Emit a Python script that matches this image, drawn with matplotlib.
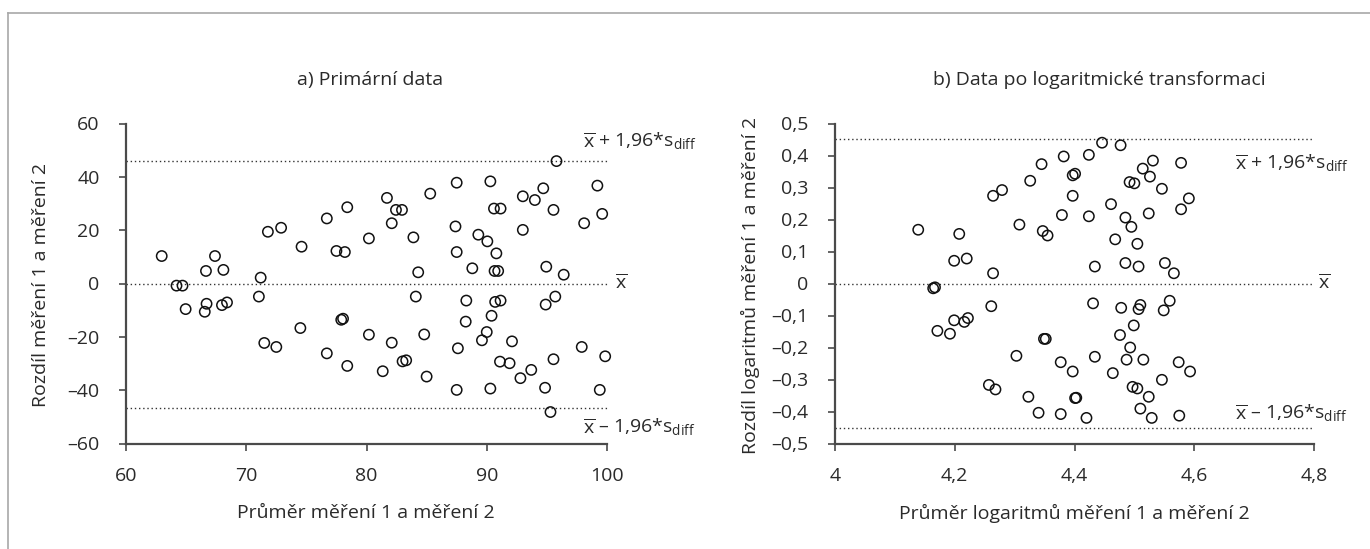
import matplotlib
matplotlib.use("Agg")
import matplotlib.pyplot as plt
from matplotlib.lines import Line2D

plt.rcParams["font.family"] = ["Open Sans", "DejaVu Sans"]
plt.rcParams["mathtext.fontset"] = "custom"
plt.rcParams["mathtext.rm"] = "Open Sans"
plt.rcParams["mathtext.it"] = "Open Sans:italic"
plt.rcParams["mathtext.bf"] = "Open Sans:bold"

# --- panel a: raw measurements -------------------------------------------
avg_raw = [62.97, 64.2, 64.7, 66.65, 67.4, 68.1, 71.2, 71.8, 72.9, 74.6, 76.7, 78.4,
           77.5, 78.2, 80.2,
           95.8, 81.7, 85.3, 87.5, 90.3, 93.0, 94.0, 94.7, 99.2, 82.45, 82.95, 90.6,
           91.15, 95.55, 99.6, 82.1, 87.4, 98.1, 83.9, 89.3, 90.05, 93.0, 87.5, 90.8,
           84.3, 88.8, 90.65, 90.95, 94.95, 96.4,
           64.96, 66.7, 66.55, 67.98, 68.4, 71.05, 71.5, 72.5, 74.5, 76.7, 77.9, 78.05,
           78.4, 80.2,
           84.1, 88.3, 90.7, 91.15, 94.9, 95.7, 90.4, 88.25, 82.1, 84.8, 90.0, 89.6,
           92.1, 87.6, 97.9, 83.0, 83.3, 81.35, 85.0, 91.1, 91.9, 93.7, 92.8, 95.55,
           99.85, 87.5, 90.3, 94.85, 99.4, 95.3]
diff_raw = [10.3, -0.8, -0.8, 4.7, 10.3, 5.1, 2.2, 19.4, 20.9, 13.8, 24.4, 28.6,
            12.2, 11.8, 16.9,
            45.9, 32.1, 33.7, 37.8, 38.3, 32.7, 31.3, 35.7, 36.7, 27.6, 27.6, 28.1,
            28.1, 27.6, 26.1, 22.6, 21.4, 22.6, 17.3, 18.3, 15.8, 20.1, 11.8, 11.3,
            4.2, 5.7, 4.7, 4.7, 6.3, 3.3,
            -9.6, -7.6, -10.6, -8.1, -7.1, -4.9, -22.3, -23.8, -16.7, -26.2, -13.6, -13.2,
            -30.9, -19.2,
            -4.9, -6.4, -6.9, -6.4, -7.9, -4.9, -12.1, -14.3, -22.2, -19.1, -18.2, -21.3,
            -21.7, -24.3, -23.8, -29.2, -28.8, -32.9, -34.9, -29.3, -29.9, -32.4, -35.5, -28.4,
            -27.3, -39.9, -39.4, -39.1, -39.9, -48.2]
raw_mean = 0.0
raw_upper = 46.0
raw_lower = -46.8

raw_xticks = [60, 70, 80, 90, 100]
raw_xticklabels = ["60", "70", "80", "90", "100"]
raw_yticks = [-60, -40, -20, 0, 20, 40, 60]
raw_yticklabels = ["–60", "–40", "–20", "0", "20", "40", "60"]

# --- panel b: log-transformed measurements -------------------------------
avg_log = [4.139, 4.2075, 4.199, 4.22, 4.164, 4.167, 4.171, 4.192, 4.199, 4.216, 4.222,
           4.446, 4.477, 4.382, 4.424, 4.345, 4.531, 4.578, 4.514, 4.397, 4.401, 4.526,
           4.326, 4.492, 4.500, 4.546, 4.279, 4.264, 4.397, 4.591, 4.578, 4.461, 4.379,
           4.424, 4.485, 4.524, 4.308, 4.495, 4.347, 4.355, 4.468, 4.505, 4.264, 4.434,
           4.485, 4.507, 4.551, 4.566,
           4.261, 4.431, 4.478, 4.507, 4.510, 4.549, 4.559, 4.499, 4.476, 4.349, 4.352,
           4.493, 4.303, 4.434, 4.487, 4.515, 4.377, 4.574, 4.397, 4.464, 4.593, 4.546,
           4.257, 4.268, 4.497, 4.505, 4.323, 4.401, 4.403, 4.524, 4.340, 4.377, 4.420,
           4.510, 4.529, 4.575]
diff_log = [0.168, 0.155, 0.071, 0.078, -0.015, -0.012, -0.148, -0.157, -0.115, -0.12, -0.108,
            0.440, 0.432, 0.397, 0.402, 0.373, 0.384, 0.377, 0.359, 0.338, 0.343, 0.334,
            0.321, 0.317, 0.313, 0.296, 0.292, 0.274, 0.274, 0.266, 0.232, 0.248, 0.214,
            0.210, 0.206, 0.219, 0.184, 0.177, 0.164, 0.150, 0.138, 0.124, 0.032, 0.053,
            0.064, 0.053, 0.064, 0.032,
            -0.071, -0.062, -0.076, -0.080, -0.067, -0.084, -0.054, -0.131, -0.161, -0.173, -0.173,
            -0.200, -0.226, -0.229, -0.238, -0.238, -0.246, -0.246, -0.275, -0.280, -0.275, -0.301,
            -0.317, -0.331, -0.323, -0.328, -0.354, -0.358, -0.357, -0.354, -0.404, -0.408, -0.420,
            -0.391, -0.420, -0.413]
log_mean = 0.0
log_upper = 0.451
log_lower = -0.453

log_xticks = [4.0, 4.2, 4.4, 4.6, 4.8]
log_xticklabels = ["4", "4,2", "4,4", "4,6", "4,8"]
log_yticks = [-0.5, -0.4, -0.3, -0.2, -0.1, 0.0, 0.1, 0.2, 0.3, 0.4, 0.5]
log_yticklabels = ["–0,5", "–0,4", "–0,3", "–0,2", "–0,1", "0",
                   "0,1", "0,2", "0,3", "0,4", "0,5"]

TEXT = "#2a2a2a"
SPINE = "#4a4a4a"
FS = 14

upper_label = r"$\overline{\mathrm{x}}$ + 1,96*s$_{\mathrm{diff}}$"
lower_label = r"$\overline{\mathrm{x}}$ – 1,96*s$_{\mathrm{diff}}$"
mean_label = r"$\overline{\mathrm{x}}$"

W, H = 1370, 549
fig = plt.figure(figsize=(W / 100, H / 100), dpi=100)
fig.patch.set_facecolor("white")


def fx(px):
    return px / W


def fy(py):
    return 1 - py / H


ax1 = fig.add_axes([fx(126), fy(443.5), fx(481), 320 / H])
ax2 = fig.add_axes([fx(835), fy(443.5), fx(479), 320 / H])


def style(ax, xlim, ylim, xt, xtl, yt, ytl):
    ax.set_xlim(*xlim)
    ax.set_ylim(*ylim)
    for s in ("top", "right"):
        ax.spines[s].set_visible(False)
    for s in ("left", "bottom"):
        ax.spines[s].set_color(SPINE)
        ax.spines[s].set_linewidth(1.6)
    ax.set_xticks(xt)
    ax.set_xticklabels(xtl)
    ax.set_yticks(yt)
    ax.set_yticklabels(ytl)
    ax.tick_params(axis="both", direction="out", length=5, width=1.2, color=SPINE,
                   labelsize=FS, labelcolor=TEXT)
    ax.tick_params(axis="y", pad=14)
    ax.tick_params(axis="x", pad=12)
    ax.set_facecolor("none")


def limits(ax, x0, x1, mean, up, lo):
    for v in (up, mean, lo):
        ax.plot([x0, x1], [v, v], color="#333333", lw=1.0,
                linestyle=(0, (1, 2)), clip_on=False, zorder=1)


style(ax1, (60, 100), (-60, 60), raw_xticks, raw_xticklabels, raw_yticks, raw_yticklabels)
limits(ax1, 60, 100, raw_mean, raw_upper, raw_lower)
ax1.scatter(avg_raw, diff_raw, s=55, facecolors="none", edgecolors="#111111",
            linewidths=1.1, clip_on=False, zorder=3)

style(ax2, (4.0, 4.8), (-0.5, 0.5), log_xticks, log_xticklabels, log_yticks, log_yticklabels)
limits(ax2, 4.0, 4.8, log_mean, log_upper, log_lower)
ax2.scatter(avg_log, diff_log, s=55, facecolors="none", edgecolors="#111111",
            linewidths=1.1, clip_on=False, zorder=3)

# limit labels
kw = dict(textcoords="offset points", fontsize=FS, color=TEXT, va="baseline",
          ha="left", annotation_clip=False)
ax1.annotate(upper_label, xy=(98.0, raw_upper), xytext=(0, 10), **kw)
ax1.annotate(lower_label, xy=(98.0, raw_lower), xytext=(0, -18), **kw)
ax1.annotate(mean_label, xy=(100, raw_mean), xytext=(6, -4), **kw)

ax2.annotate(upper_label, xy=(4.668, log_upper), xytext=(0, -21.5), **kw)
ax2.annotate(lower_label, xy=(4.668, log_lower), xytext=(0, 6.5), **kw)
ax2.annotate(mean_label, xy=(4.8, log_mean), xytext=(3, -4), **kw)

# titles and axis labels
fig.text(fx(370), fy(80), "a) Primární data", ha="center", va="center",
         fontsize=FS, color=TEXT)
fig.text(fx(1099), fy(80), "b) Data po logaritmické transformaci", ha="center",
         va="center", fontsize=FS, color=TEXT)
fig.text(fx(366), fy(513), "Průměr měření 1 a měření 2", ha="center", va="center",
         fontsize=FS, color=TEXT)
fig.text(fx(1074), fy(513), "Průměr logaritmů měření 1 a měření 2", ha="center",
         va="center", fontsize=FS, color=TEXT)
fig.text(fx(41), fy(285), "Rozdíl měření 1 a měření 2", ha="center", va="center",
         rotation=90, fontsize=FS, color=TEXT)
fig.text(fx(750), fy(285), "Rozdíl logaritmů měření 1 a měření 2", ha="center",
         va="center", rotation=90, fontsize=FS, color=TEXT)

# outer frame (top and left edges)
fig.add_artist(Line2D([fx(8), 1.0], [fy(13), fy(13)], color="#a8a8a8", lw=1.2))
fig.add_artist(Line2D([fx(8), fx(8)], [fy(13), 0.0], color="#a8a8a8", lw=1.2))

fig.savefig("out.png", dpi=100, facecolor="white")
